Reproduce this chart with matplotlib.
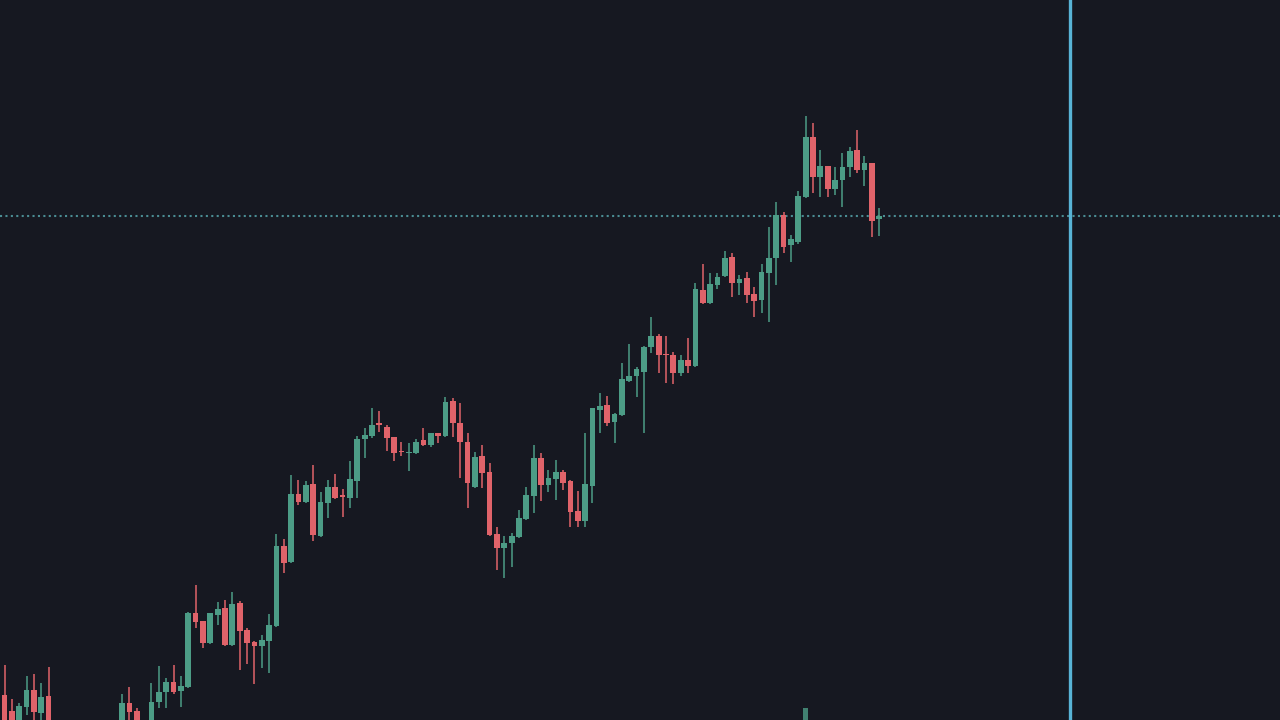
import numpy as np
import matplotlib
matplotlib.use("Agg")
import matplotlib.pyplot as plt

# OHLC (price units = pixels above the bottom edge)
opens = [25, 9, -10, 13, 30, 7, 24, -15, -30, -45, -35, -50, -40, -30, -20, -15,
         -10, 17, 9, -10, -5, 18, 28, 38, 29, 33, 107, 99, 77, 105,
         112, 75, 117, 90, 78, 74, 79, 94, 174, 158, 226, 218, 236, 184, 217,
         233, 225, 222, 239, 281, 284, 297, 293, 283, 269, 267, 267, 280, 275, 287,
         284, 319, 297, 278, 233, 264, 248, 186, 172, 177, 183, 201, 224, 262, 235,
         241, 248, 239, 209, 199, 234, 310, 315, 298, 305, 339, 344, 348, 373, 384,
         366, 365, 347, 360, 354, 430, 417, 435, 444, 463, 437, 442, 426, 420, 447,
         462, 505, 475, 478, 523, 583, 543, 554, 531, 540, 553, 570, 550, 557, 501]
highs = [55, 21, 17, 44, 46, 37, 53, -5, -20, -30, -25, -35, -20, -15, -5, -3,
         26, 33, 12, -1, 37, 54, 42, 55, 44, 108, 135, 99, 107, 118,
         120, 128, 119, 92, 79, 85, 106, 186, 181, 245, 240, 239, 255, 228, 240,
         246, 231, 259, 284, 292, 312, 309, 295, 283, 278, 277, 281, 292, 287, 287,
         323, 322, 317, 287, 268, 275, 257, 193, 184, 187, 210, 233, 275, 267, 250,
         260, 250, 240, 229, 287, 312, 327, 324, 307, 357, 376, 353, 374, 403, 386,
         384, 368, 365, 382, 437, 456, 447, 447, 469, 467, 445, 448, 433, 456, 493,
         518, 508, 485, 529, 604, 597, 570, 554, 553, 567, 573, 590, 564, 557, 512]
lows = [-20, -15, -15, 5, -5, -5, -25, -40, -55, -60, -55, -65, -50, -45, -35, -30,
        -15, -5, -12, -15, -10, 12, 12, 26, 13, 32, 92, 72, 76, 95,
        74, 74, 50, 56, 36, 52, 47, 93, 147, 157, 215, 217, 179, 183, 202,
        221, 203, 212, 222, 262, 282, 288, 269, 259, 264, 249, 266, 274, 273, 277,
        283, 283, 242, 212, 232, 232, 184, 150, 142, 153, 182, 200, 207, 219, 228,
        220, 230, 193, 193, 193, 217, 287, 294, 277, 304, 338, 323, 287, 367, 347,
        337, 336, 344, 347, 353, 416, 416, 431, 443, 423, 425, 417, 403, 407, 398,
        435, 467, 458, 476, 522, 527, 523, 523, 525, 513, 543, 547, 534, 483, 484]
closes = [-10, -8, 14, 30, 8, 23, -15, -30, -45, -35, -50, -40, -30, -20, -15, -10,
          17, 8, -5, -3, 18, 28, 38, 28, 34, 107, 98, 77, 107, 111,
          75, 116, 89, 77, 74, 80, 95, 174, 157, 226, 218, 235, 185, 218, 233,
          222, 223, 241, 281, 285, 295, 295, 282, 267, 268, 268, 278, 275, 287, 284,
          318, 297, 278, 237, 263, 247, 185, 172, 177, 184, 202, 225, 262, 235, 242,
          248, 237, 208, 199, 236, 312, 314, 297, 306, 341, 344, 351, 373, 384, 365,
          365, 347, 360, 354, 431, 417, 436, 443, 462, 437, 441, 425, 419, 448, 462,
          505, 473, 481, 524, 583, 543, 554, 531, 540, 553, 569, 550, 557, 499, 504]

# only one volume bar pokes into view
volume = [0] * len(opens)
volume[109] = 72
vol_base = -60

marker_idx = 145  # vertical cursor line

BG = "#161821"
UP = "#4c9c86"
DOWN = "#e0636a"

o = np.array(opens, float)
h = np.array(highs, float)
l = np.array(lows, float)
c = np.array(closes, float)
x = np.arange(len(o))
up = c >= o

fig = plt.figure(figsize=(12.8, 7.2), dpi=100, facecolor=BG)
ax = fig.add_axes([0, 0, 1, 1])
ax.set_facecolor(BG)

colors = np.where(up, UP, DOWN)

# volume bar(s)
vol = np.array(volume, float)
ax.bar(x, vol, bottom=vol_base, width=0.75, color=UP, alpha=0.8, zorder=1)

# wicks and bodies
ax.vlines(x, l, h, colors=colors, linewidth=1.1, zorder=2)
body_lo = np.minimum(o, c)
body_h = np.maximum(np.abs(c - o), 1.2)
ax.bar(x, body_h, bottom=body_lo, width=0.78, color=colors,
       linewidth=0, zorder=3)

# last price line and cursor
ax.axhline(c[-1], color="#4a8c93", linewidth=1.5, linestyle=(0, (1, 1.6)), zorder=1)
ax.axvline(marker_idx, color="#58b3d6", linewidth=2.4, zorder=4)

spacing = 7.35
ax.set_xlim(-4.5 / spacing, (1280 - 4.5) / spacing)
ax.set_ylim(0, 720)
ax.axis("off")

fig.savefig("out.png", dpi=100, facecolor=BG)
